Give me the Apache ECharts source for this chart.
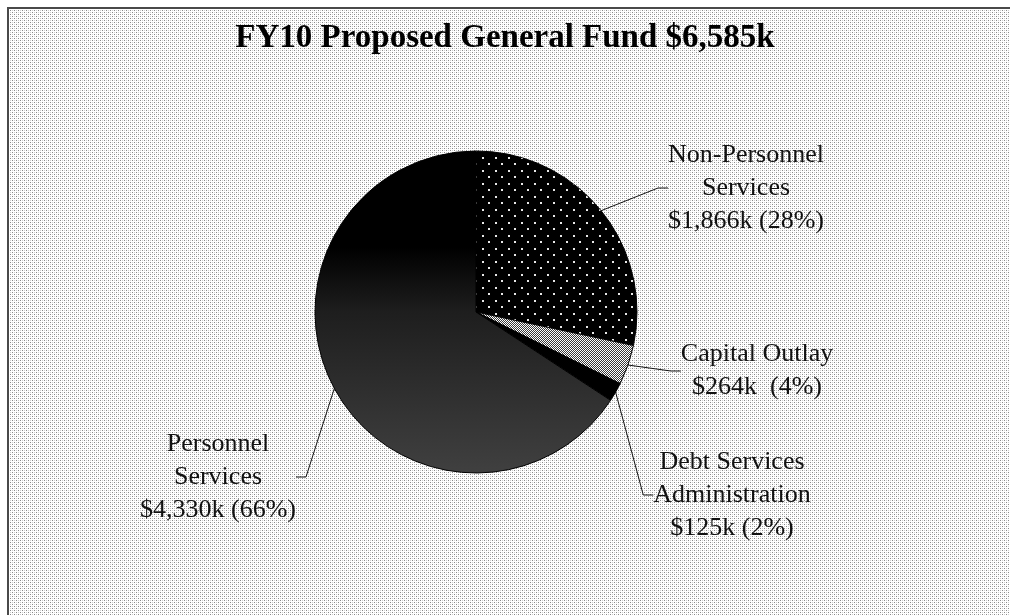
<!DOCTYPE html>
<html>
<head>
<meta charset="utf-8">
<title>FY10 Proposed General Fund</title>
<script src="https://cdn.jsdelivr.net/npm/echarts@6/dist/echarts.min.js"></script>
<style>
  html, body { margin: 0; padding: 0; background: #ffffff; }
  #chart { width: 1010px; height: 615px; }
</style>
</head>
<body>
<div id="chart"></div>
<script>
// Budget categories (in $ thousands), clockwise from 12 o'clock
const categories = ['Non-Personnel\nServices', 'Capital Outlay', 'Debt Services\nAdministration', 'Personnel\nServices'];
const amounts = [1866, 264, 125, 4330];
const totalLabel = '$6,585k';
const titleText = 'FY10 Proposed General Fund ' + totalLabel;

const SERIF = '"Liberation Serif", "Times New Roman", Times, serif';

// Small tiled canvases used as fill textures
function makeTile(w, h, bg, dots) {
  const c = document.createElement('canvas');
  c.width = w; c.height = h;
  const ctx = c.getContext('2d');
  ctx.fillStyle = bg;
  ctx.fillRect(0, 0, w, h);
  dots.forEach(function (d) {
    ctx.fillStyle = d[4];
    ctx.fillRect(d[0], d[1], d[2], d[3]);
  });
  return c;
}

// light stippled backdrop
const bgTile = makeTile(4, 4, '#ffffff', [
  [0, 0, 1, 1, '#8a8a8a'], [2, 2, 1, 1, '#8a8a8a'],
  [2, 0, 1, 1, '#cfcfcf'], [0, 2, 1, 1, '#cfcfcf']
]);
// black with white dots
const dotTile = makeTile(13, 13, '#000000', [
  [1, 1, 2, 2, '#e8e8e8'], [7, 7, 2, 2, '#e8e8e8']
]);
// light grey checker
const checkTile = makeTile(2, 2, '#3a3a3a', [
  [0, 0, 1, 1, '#ffffff'], [1, 1, 1, 1, '#ffffff']
]);

const sliceFills = [
  { image: dotTile, repeat: 'repeat' },
  { image: checkTile, repeat: 'repeat' },
  '#000000',
  {
    type: 'linear', x: 0, y: 0, x2: 0, y2: 1,
    colorStops: [
      { offset: 0, color: '#000000' },
      { offset: 0.3, color: '#000000' },
      { offset: 0.5, color: '#1e1e1e' },
      { offset: 1, color: '#404040' }
    ]
  }
];

// label block centres for each slice
const labelSpots = [
  { x: 746, y: 188 },
  { x: 757, y: 371 },
  { x: 732, y: 495 },
  { x: 218, y: 477 }
];

const total = amounts.reduce(function (a, b) { return a + b; }, 0);
function money(v) { return '$' + v.toLocaleString('en-US') + 'k'; }

const pieData = categories.map(function (name, i) {
  return { name: name, value: amounts[i], itemStyle: { color: sliceFills[i] } };
});

const chart = echarts.init(document.getElementById('chart'), null, { renderer: 'canvas' });

chart.setOption({
  backgroundColor: '#ffffff',
  animation: false,
  graphic: [
    {
      type: 'rect',
      z: -10,
      silent: true,
      shape: { x: 8, y: 8, width: 1010, height: 620 },
      style: { fill: { image: bgTile, repeat: 'repeat' }, stroke: '#4a4a4a', lineWidth: 2 }
    }
  ],
  title: {
    text: titleText,
    left: 'center',
    top: 17,
    textStyle: { fontFamily: SERIF, fontWeight: 'bold', fontSize: 33, color: '#000000' }
  },
  series: [
    {
      type: 'pie',
      center: [476, 312],
      radius: 161,
      startAngle: 90,
      clockwise: true,
      avoidLabelOverlap: false,
      data: pieData,
      itemStyle: { borderColor: '#000000', borderWidth: 1 },
      label: {
        show: true,
        position: 'outside',
        fontFamily: SERIF,
        fontSize: 26,
        lineHeight: 33,
        color: '#111111',
        align: 'center',
        formatter: function (p) {
          const pct = Math.round(p.value / total * 100);
          const gap = p.dataIndex === 1 ? '  ' : ' ';
          return p.name + '\n' + money(p.value) + gap + '(' + pct + '%)';
        }
      },
      labelLine: {
        show: true,
        length: 10,
        length2: 10,
        lineStyle: { color: '#111111', width: 1 }
      },
      labelLayout: function (params) {
        const s = labelSpots[params.dataIndex];
        return { x: s.x, y: s.y, align: 'center', verticalAlign: 'middle' };
      },
      emphasis: { disabled: true }
    }
  ]
});
</script>
</body>
</html>
